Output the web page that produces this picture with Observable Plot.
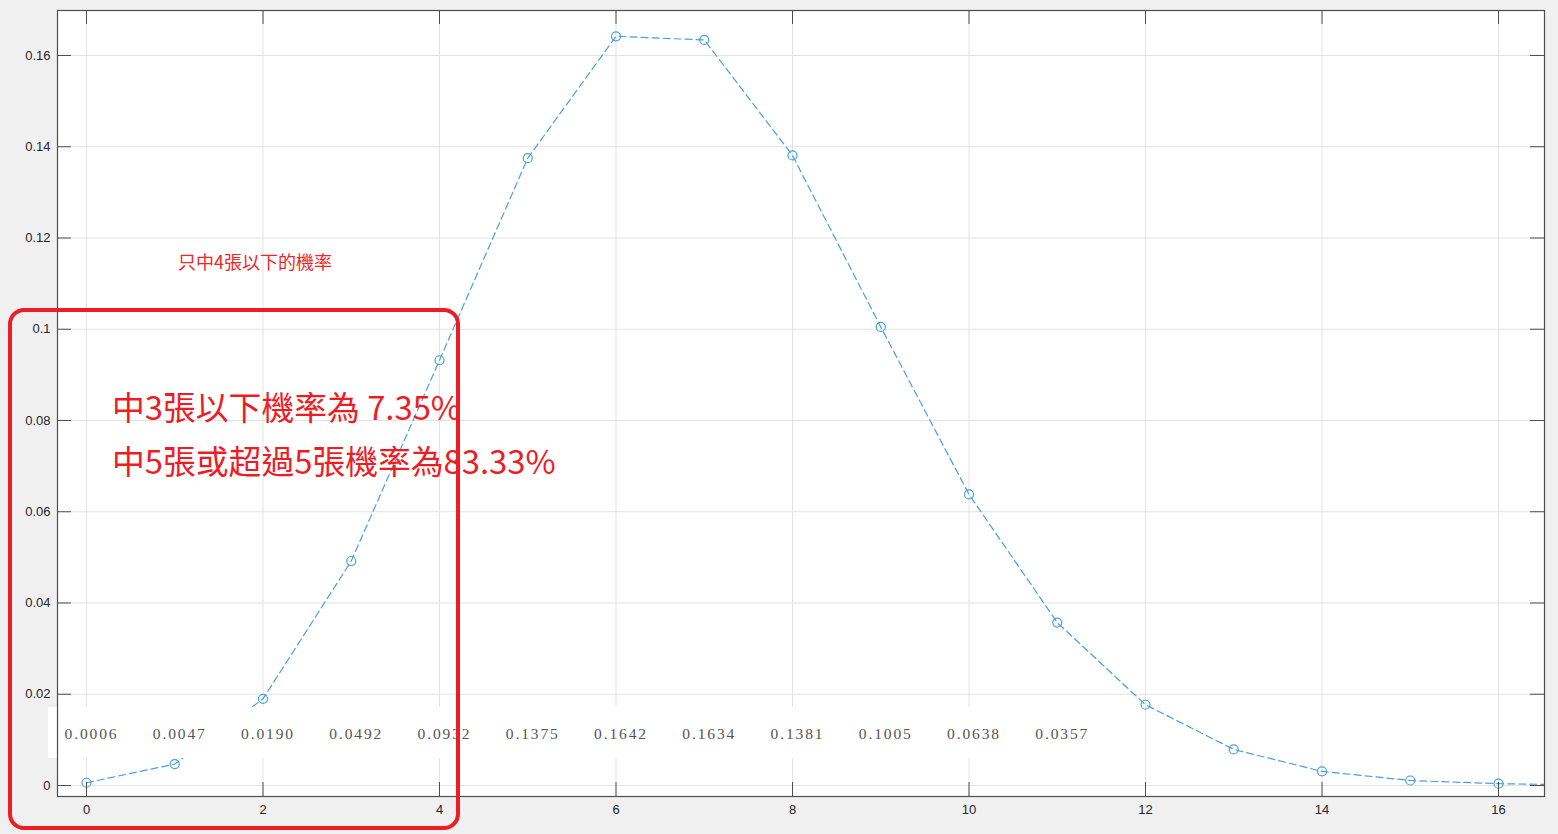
<!DOCTYPE html>
<html>
<head>
<meta charset="utf-8">
<script src="https://cdn.jsdelivr.net/npm/d3@7"></script>
<script src="https://cdn.jsdelivr.net/npm/@observablehq/plot@0.6"></script>
<style>
  html, body { margin: 0; padding: 0; background: #f0f0f0; }
  #wrap { position: relative; width: 1558px; height: 834px; overflow: hidden; }
  #wrap svg { position: absolute; left: 0; top: 0; }
  g[aria-label="text"] text { letter-spacing: 1.9px; }
  .ann { position: absolute; color: #ee1c24; font-family: "Noto Sans CJK TC", "Noto Sans CJK SC", sans-serif; white-space: nowrap; line-height: 1; }
  #box { position: absolute; left: 8px; top: 308px; width: 452px; height: 522px; box-sizing: border-box;
         border: 4.5px solid #ee1c24; border-radius: 16px; }
</style>
</head>
<body>
<div id="wrap">
  <div id="box"></div>
  <div class="ann" id="a1" style="left:178px; top:252px; font-size:18px; color:#f0252b;">只中4張以下的機率</div>
  <div class="ann" id="a2" style="left:112px; top:390px; font-size:32.8px;">中3張以下機率為 7.35%</div>
  <div class="ann" id="a3" style="left:112px; top:444px; font-size:32.8px;">中5張或超過5張機率為83.33%</div>
</div>
<script>
// Number of matched cards (x) and probability (y)
const ks = [0, 1, 2, 3, 4, 5, 6, 7, 8, 9, 10, 11, 12, 13, 14, 15, 16, 17];
const probs = [0.0006, 0.0047, 0.0190, 0.0492, 0.0932, 0.1375, 0.1642, 0.1634, 0.1381,
               0.1005, 0.0638, 0.0357, 0.0177, 0.0079, 0.0031, 0.0011, 0.0004, 0.0001];
// Values written in the table strip
const tableIdx = [0, 1, 2, 3, 4, 5, 6, 7, 8, 9, 10, 11];
const tableLabels = ["0.0006", "0.0047", "0.0190", "0.0492", "0.0932", "0.1375",
                     "0.1642", "0.1634", "0.1381", "0.1005", "0.0638", "0.0357"];
const xTicks = [0, 2, 4, 6, 8, 10, 12, 14, 16];
const yTicks = [0, 0.02, 0.04, 0.06, 0.08, 0.1, 0.12, 0.14, 0.16];

const data = ks.map((k, i) => ({k, p: probs[i]}));
const table = tableIdx.map((k, i) => ({k, label: tableLabels[i]}));

const W = 1558, H = 834;
const mL = 57, mR = 14, mT = 10, mB = 38;
const plotW = W - mL - mR, plotH = H - mT - mB;
const tick = 14;
const axisColor = "#4d4d4d";
const lineColor = "#4a9fe0";
const gridColor = "#e3e3e3";

const chart = Plot.plot({
  width: W, height: H,
  marginLeft: mL, marginRight: mR, marginTop: mT, marginBottom: mB,
  style: {background: "transparent", fontFamily: "'Liberation Sans', Arial, sans-serif", fontSize: "13px", color: "#262626"},
  x: {domain: [-0.3286, 16.521]},
  y: {domain: [-0.00241, 0.16986]},
  marks: [
    Plot.frame({fill: "white", stroke: null}),
    Plot.gridX(xTicks, {stroke: gridColor, strokeOpacity: 1}),
    Plot.gridY(yTicks, {stroke: gridColor, strokeOpacity: 1}),
    Plot.line(data, {x: "k", y: "p", stroke: lineColor, strokeWidth: 1.2, strokeDasharray: "7,4", clip: true}),
    Plot.dot(data, {x: "k", y: "p", r: 4.5, stroke: lineColor, strokeWidth: 1.2, fill: "none", clip: true}),
    Plot.rect([table], {x1: t => t[0].k - 0.43, x2: t => t[t.length - 1].k + 0.69, fill: "white", insetTop: 697, insetBottom: 38}),
    Plot.text(table, {x: "k", text: "label", frameAnchor: "bottom", dy: -58, dx: 5, fontFamily: "'Liberation Serif', 'Times New Roman', serif", fontSize: 15.5, fill: "#555"}),
    // inward ticks on all four sides
    Plot.tickX(xTicks, {x: d => d, stroke: axisColor, insetTop: plotH - tick}),
    Plot.tickX(xTicks, {x: d => d, stroke: axisColor, insetBottom: plotH - tick}),
    Plot.tickY(yTicks, {y: d => d, stroke: axisColor, insetRight: plotW - tick}),
    Plot.tickY(yTicks, {y: d => d, stroke: axisColor, insetLeft: plotW - tick}),
    Plot.frame({stroke: axisColor, strokeWidth: 1.2}),
    Plot.axisX(xTicks, {tickSize: 0, tickPadding: 8, label: null, fill: "#262626"}),
    Plot.axisY(yTicks, {tickSize: 0, tickPadding: 7, label: null, tickFormat: d => String(d), fill: "#262626"})
  ]
});
document.getElementById("wrap").prepend(chart);
</script>
</body>
</html>
